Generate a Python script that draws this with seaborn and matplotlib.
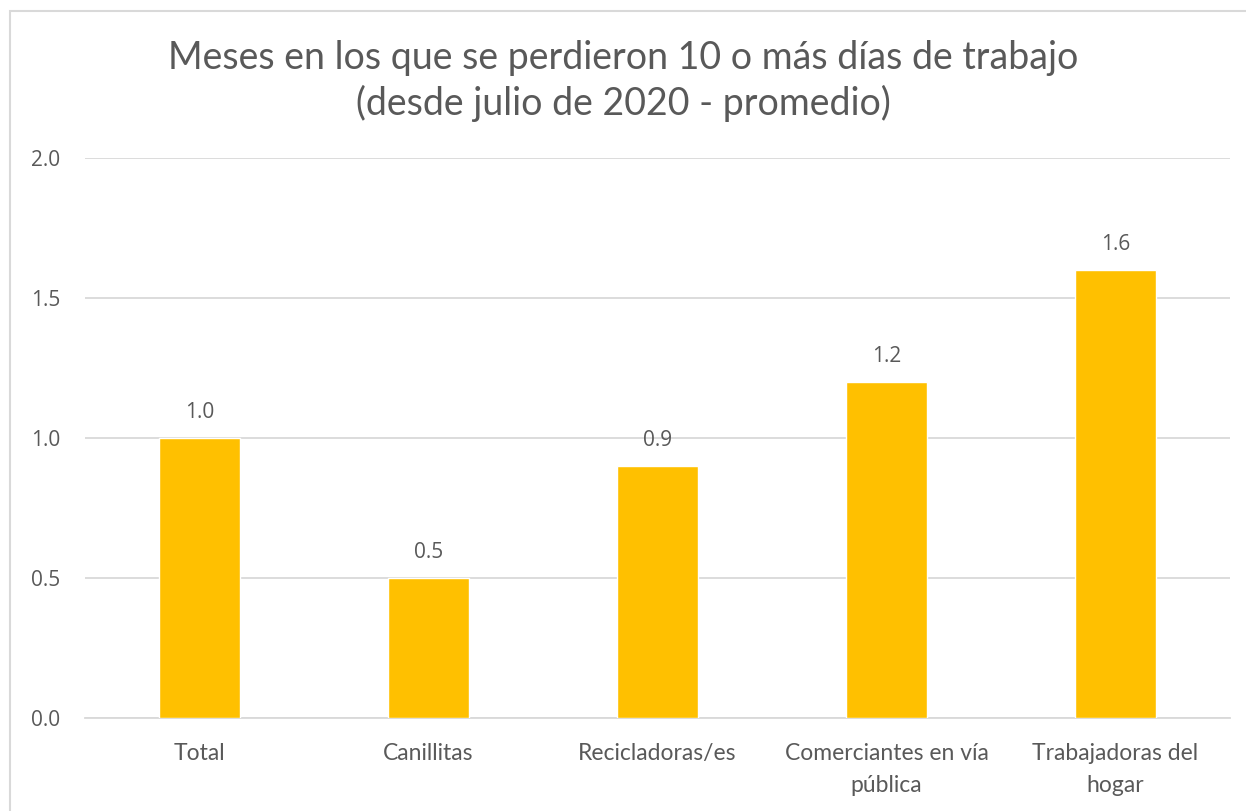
import pandas as pd
import seaborn as sns
import matplotlib.pyplot as plt
from matplotlib.patches import Rectangle

# data
categories = ["Total", "Canillitas", "Recicladoras/es", "Comerciantes en vía\npública", "Trabajadoras del\nhogar"]
values = [1.0, 0.5, 0.9, 1.2, 1.6]
yticks = [0.0, 0.5, 1.0, 1.5, 2.0]

df = pd.DataFrame({"categoria": categories, "meses": values})

sns.set_theme(style="white")
plt.rcParams["font.family"] = ["Lato", "DejaVu Sans"]

text_color = "#595959"

fig = plt.figure(figsize=(12.46, 8.11), dpi=100)
ax = fig.add_axes([85 / 1246, 1 - 718 / 811, (1230 - 85) / 1246, (718 - 158) / 811])

sns.barplot(data=df, x="categoria", y="meses", color="#FFC000", width=0.35,
            saturation=1, ax=ax, zorder=3)

ax.set_ylim(0, 2.0)
ax.set_yticks(yticks)
ax.set_yticklabels([f"{t:.1f}" for t in yticks], fontfamily="Open Sans",
                   fontsize=15, color=text_color)
ax.grid(axis="y", color="#D9D9D9", linewidth=1.3, zorder=0)
ax.set_xlabel("")
ax.set_ylabel("")
for s in ["top", "right", "left"]:
    ax.spines[s].set_visible(False)
ax.spines["bottom"].set_color("#D9D9D9")
ax.spines["bottom"].set_linewidth(1.3)
ax.tick_params(axis="both", length=0)
ax.tick_params(axis="y", pad=18)
ax.tick_params(axis="x", pad=18)
for lab in ax.get_xticklabels():
    lab.set_fontsize(16.5)
    lab.set_color(text_color)
    lab.set_linespacing(1.65)

# data labels
for i, v in enumerate(values):
    ax.annotate(f"{v:.1f}", (i, v), xytext=(0, 11), textcoords="offset points",
                ha="center", va="bottom", fontsize=15, color=text_color,
                fontfamily="Open Sans")

fig.text(0.5, 1 - 58 / 811, "Meses en los que se perdieron 10 o más días de trabajo",
         ha="center", va="center", fontsize=27, color=text_color)
fig.text(0.5, 1 - 103 / 811, "(desde julio de 2020 - promedio)",
         ha="center", va="center", fontsize=27, color=text_color)

# chart area border
fig.patches.append(Rectangle((10 / 1246, -0.05), 1.1, 1 - 11 / 811 + 0.05,
                             transform=fig.transFigure, fill=False,
                             edgecolor="#D9D9D9", linewidth=1.5))

fig.savefig("out.png", dpi=100, facecolor="white")
